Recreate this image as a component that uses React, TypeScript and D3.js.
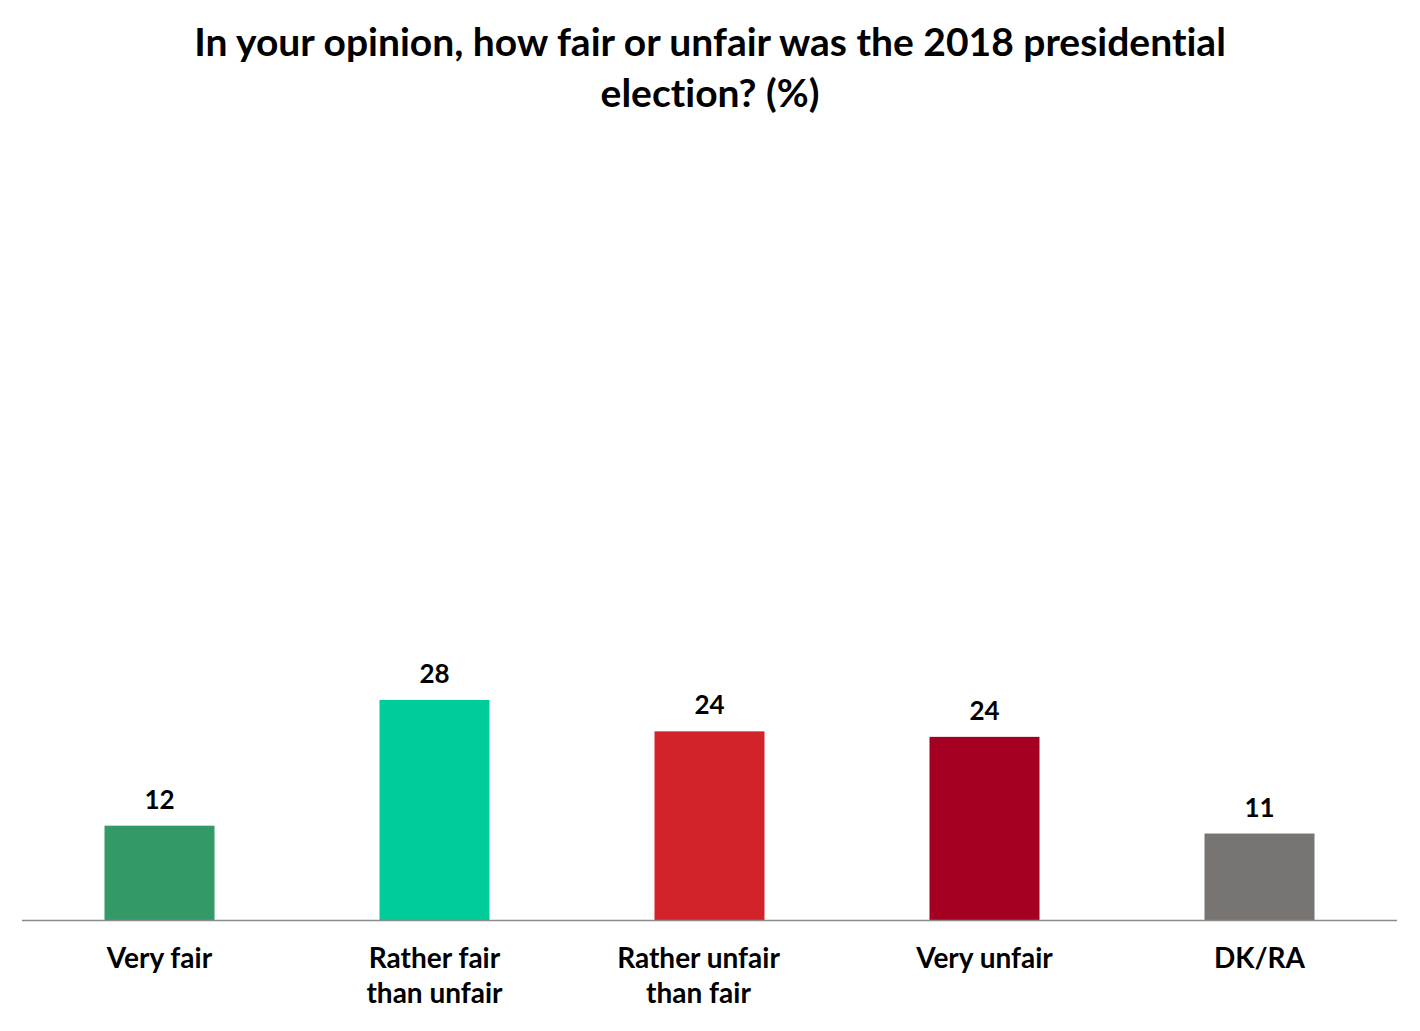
import React from "react";
import * as d3 from "d3";

const categories = ["Very fair", "Rather fair\nthan unfair", "Rather unfair\nthan fair", "Very unfair", "DK/RA"];
const values = [12, 28, 24, 23.3, 11];
const valueLabels = ["12", "28", "24", "24", "11"];
const colors = ["#339966", "#00CC99", "#D2232A", "#A50021", "#787472"];
const titleLines = ["In your opinion, how fair or unfair was the 2018 presidential", "election? (%)"];

const W = 1420;
const H = 1031;
const FONT = "Lato, 'Open Sans', sans-serif";
// the reference places the wrapped third label slightly left of its bar centre
const labelNudge: Record<string, number> = { "Rather unfair\nthan fair": -11 };

export default function App() {
  const x = d3
    .scaleBand<string>()
    .domain(categories)
    .range([22, 1397])
    .paddingInner(0.6)
    .paddingOuter(0.3);
  const y = d3.scaleLinear().domain([0, 100]).range([920, 134]);

  return (
    <svg
      width={W}
      height={H}
      style={{ position: "absolute", left: 0, top: 0, background: "#fff", fontVariantLigatures: "none" }}
      fontFamily={FONT}
    >
      {titleLines.map((t, i) => (
        <text
          key={i}
          x={710}
          y={56 + i * 51}
          textAnchor="middle"
          fontSize={39}
          fontWeight={700}
          fill="#000"
        >
          {t}
        </text>
      ))}
      {categories.map((c, i) => (
        <rect
          key={c}
          x={x(c)}
          y={y(values[i])}
          width={x.bandwidth()}
          height={y(0) - y(values[i])}
          fill={colors[i]}
        />
      ))}
      <line x1={22} x2={1397} y1={y(0) + 0.5} y2={y(0) + 0.5} stroke="#8c8c8c" strokeWidth={1.3} />
      {categories.map((c, i) => (
        <text
          key={"v" + c}
          x={(x(c) as number) + x.bandwidth() / 2}
          y={y(values[i]) - 17}
          textAnchor="middle"
          fontSize={26}
          fontWeight={700}
          fill="#000"
        >
          {valueLabels[i]}
        </text>
      ))}
      {categories.map((c) => {
        const cx = (x(c) as number) + x.bandwidth() / 2 + (labelNudge[c] || 0);
        return (
          <text
            key={"c" + c}
            x={cx}
            y={968}
            textAnchor="middle"
            fontSize={28}
            fontWeight={700}
            fill="#000"
          >
            {c.split("\n").map((line, j) => (
              <tspan key={j} x={cx} dy={j === 0 ? 0 : 35}>
                {line}
              </tspan>
            ))}
          </text>
        );
      })}
    </svg>
  );
}
